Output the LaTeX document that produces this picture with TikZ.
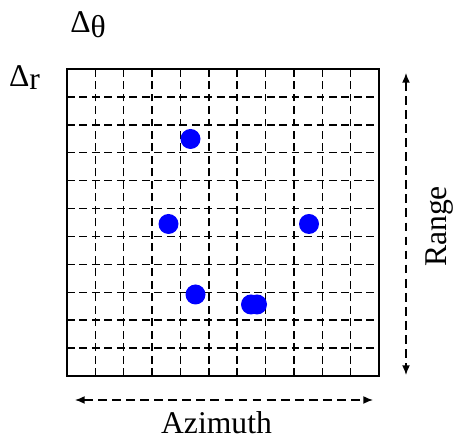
\documentclass[tikz,border=0pt]{standalone}
\usepackage{fontspec}
\setmainfont{Liberation Serif}
\usepackage{tikz}
\usetikzlibrary{arrows.meta, positioning}

\begin{document}
\begin{tikzpicture}[
  cell/.style={dash pattern=on 4.5pt off 2.6pt, line width=0.8pt},
  target/.style={circle, fill=blue, inner sep=0pt, minimum size=0.4cm},
  axis/.style={{Latex[length=5.5pt,width=4.5pt]}-{Latex[length=5.5pt,width=4.5pt]}, dash pattern=on 5pt off 3pt, line width=0.8pt},
  lbl/.style={font=\fontsize{18}{20}\selectfont, inner sep=0pt}
]
  \useasboundingbox (0,0) rectangle (9.12,8.76);

  % Resolution grid (11 x 11 cells)
  \foreach \i in {1,...,10} {
    \draw[cell] ({1.34+\i*0.5673},1.24) -- ({1.34+\i*0.5673},7.38);
    \draw[cell] (1.34,{1.24+\i*0.5582}) -- (7.58,{1.24+\i*0.5582});
  }
  \draw[line width=1.1pt] (1.34,1.24) rectangle (7.58,7.38);

  % Cell sizes
  \node[lbl] (dtheta) at (1.76,8.26) {Δ\raisebox{-3pt}{θ}};
  \node[lbl] (dr) at (0.49,7.21) {Δ\raisebox{-2pt}{r}};

  % Point targets
  \node[target] (t1) at (3.81,5.98) {};
  \node[target] (t2) at (3.37,4.28) {};
  \node[target] (t3) at (6.18,4.28) {};
  \node[target] (t4) at (3.91,2.87) {};
  \node[target] (t5) at (5.02,2.67) {};
  \node[target] (t6) at (5.14,2.67) {};

  % Azimuth axis
  \coordinate (azl) at (1.50,0.76);
  \coordinate (azr) at (7.46,0.76);
  \draw[axis] (azl) -- (azr);
  \node[lbl] (az) at (4.33,0.31) {Azimuth};

  % Range axis
  \coordinate (rgt) at (8.12,7.30);
  \coordinate (rgb) at (8.12,1.26);
  \draw[axis] (rgt) -- (rgb);
  \node[lbl, rotate=90] (rg) at (8.80,4.23) {Range};
\end{tikzpicture}
\end{document}
